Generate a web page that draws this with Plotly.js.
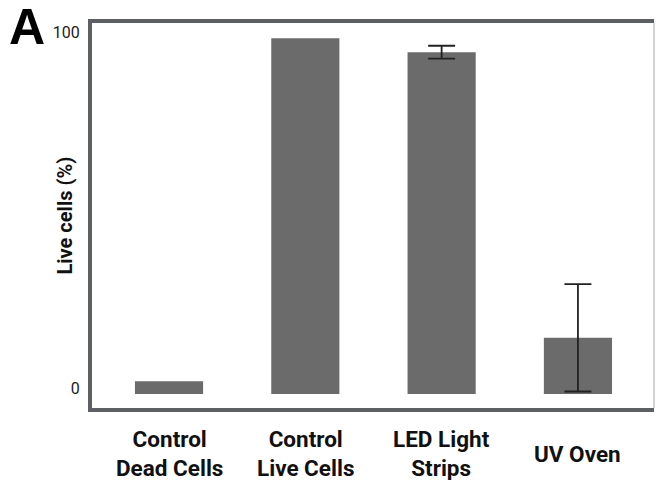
<!DOCTYPE html>
<html>
<head>
<meta charset="utf-8">
<script src="https://cdn.plot.ly/plotly-3.0.1.min.js"></script>
<style>
  html, body { margin: 0; padding: 0; background: #fff; }
  #chart { width: 657px; height: 480px; }
</style>
</head>
<body>
<div id="chart"></div>
<script>
// Percentage of live cells per treatment (mean, with spread where measured)
const groups = ['Control<br>Dead Cells', 'Control<br>Live Cells', 'LED Light<br>Strips', 'UV Oven'];
const liveCells = [3.6, 100, 96.1, 15.8];
const liveCellsErr = [NaN, NaN, 1.8, 15.1];
const yTickVals = [0, 100];
const yTickText = ['0', '100'];
const panelLabel = 'A';
const yTitle = 'Live cells (%)';

const positions = groups.map((_, i) => i);

const trace = {
  type: 'bar',
  x: positions,
  y: liveCells,
  width: 0.5,
  marker: { color: '#6b6b6b', line: { width: 0 } },
  error_y: {
    type: 'data',
    array: liveCellsErr,
    visible: true,
    color: '#222222',
    thickness: 1.8,
    width: 13.5
  },
  hoverinfo: 'skip'
};

// Category names drawn under each bar, vertically centred in the label band
const groupLabels = groups.map((g, i) => ({
  text: g,
  x: i,
  xref: 'x',
  y: -0.119,
  yref: 'paper',
  xanchor: 'center',
  yanchor: 'middle',
  borderpad: 0,
  showarrow: false,
  font: { family: 'Roboto, sans-serif', size: 22.5, weight: 700, color: '#111' }
}));

const layout = {
  width: 657,
  height: 480,
  margin: { l: 92, r: 3, t: 23, b: 72 },
  paper_bgcolor: '#ffffff',
  plot_bgcolor: '#ffffff',
  showlegend: false,
  xaxis: {
    range: [-0.565, 3.558],
    showticklabels: false,
    ticks: '',
    showgrid: false,
    zeroline: false,
    showline: true,
    linewidth: 4,
    linecolor: '#5c5f64',
    mirror: true,
    fixedrange: true
  },
  yaxis: {
    range: [-3.94, 104.3],
    tickvals: yTickVals,
    ticktext: yTickText,
    ticks: '',
    ticklabelshift: -6,
    ticklabelstandoff: 5,
    tickfont: { family: 'Roboto, sans-serif', size: 16, color: '#222' },
    showgrid: false,
    zeroline: false,
    showline: true,
    linewidth: 4,
    linecolor: '#5c5f64',
    fixedrange: true
  },
  shapes: [{
    type: 'line', xref: 'paper', yref: 'paper',
    x0: 1, x1: 1, y0: 0, y1: 1,
    line: { color: '#c4c4c4', width: 1.5 }
  }],
  annotations: groupLabels.concat([
    {
      // axis title, rotated, sitting just left of the axis
      text: yTitle,
      xref: 'paper', yref: 'paper',
      x: -0.0498, y: 0.5,
      xanchor: 'center', yanchor: 'middle',
      textangle: -90,
      showarrow: false,
      font: { family: 'Roboto, sans-serif', size: 20, weight: 700, color: '#111' }
    },
    {
      text: panelLabel,
      xref: 'paper', yref: 'paper',
      x: -0.1157, y: 0.99,
      xanchor: 'center', yanchor: 'middle',
      showarrow: false,
      font: { family: 'Liberation Sans, Arial, sans-serif', size: 50, weight: 700, color: '#000' }
    }
  ])
};

Plotly.newPlot('chart', [trace], layout, { displayModeBar: false, staticPlot: true });
</script>
</body>
</html>
